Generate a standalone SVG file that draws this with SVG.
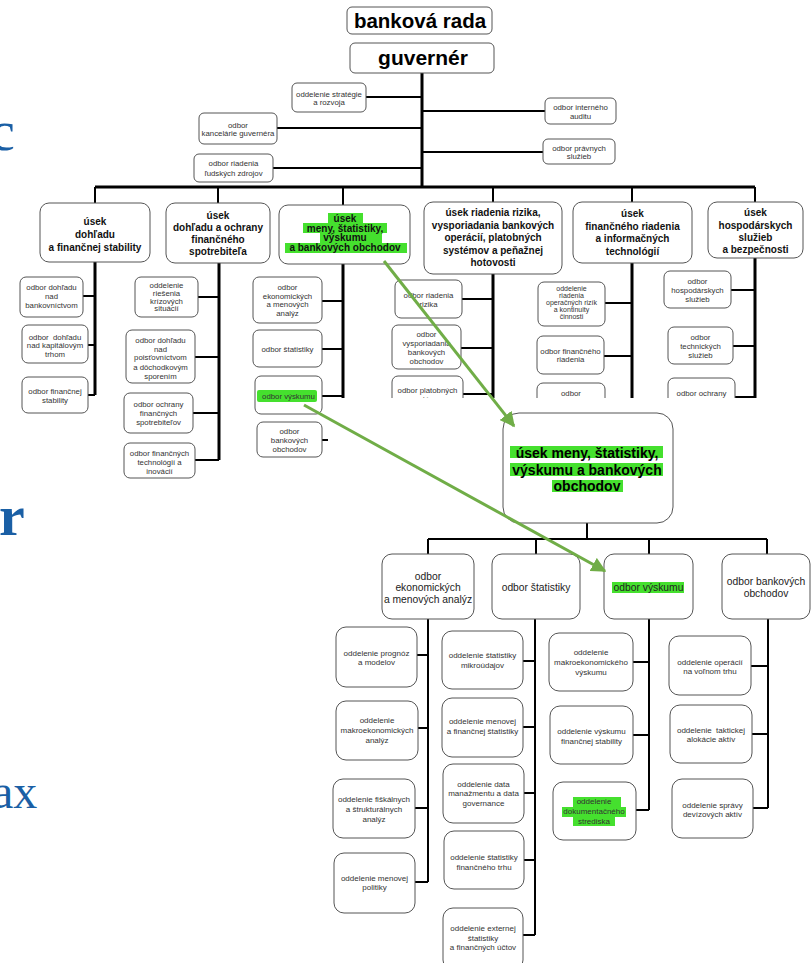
<svg xmlns="http://www.w3.org/2000/svg" width="811" height="963" viewBox="0 0 811 963">
<defs>
<style>
.bx{fill:#fff;stroke:#555;stroke-width:1}
.ln{stroke:#000;stroke-width:2;fill:none}
.tk{stroke:#000;stroke-width:3;fill:none}
.hl{fill:#45e02e}
.t{font-family:"Liberation Sans",Arial,sans-serif;text-anchor:middle}
.h{font-size:10px;font-weight:bold;fill:#111}
.s{font-size:7.8px;fill:#333}
.xs{font-size:7px;fill:#333}
.b{font-size:8px;fill:#333}
.m{font-size:10.3px;fill:#222}
.bl{font-family:"Liberation Serif","Times New Roman",serif;fill:#1a5fa5}
.ga{stroke:#70ad47;stroke-width:3;fill:none}
</style>
<marker id="ah" viewBox="0 0 10 10" refX="9" refY="5" markerWidth="5" markerHeight="5" orient="auto" markerUnits="strokeWidth">
<path d="M0,0 L10,5 L0,10 z" fill="#70ad47"/>
</marker>
</defs>
<rect width="811" height="963" fill="#fff"/>
<g id="bg-letters">
<text class="bl" x="-10" y="150" font-size="56">c</text>
<text class="bl" x="-1" y="535" font-size="58" font-weight="bold">r</text>
<text class="bl" x="-8" y="808" font-size="48">ax</text>
</g>
<g id="top-connectors">
<path class="tk" d="M422,73 V187 M95,187 H755"/>
<path class="ln" d="M366,97 H422 M277,128 H422 M273,168 H422 M422,111 H545 M422,152 H543"/>
<path class="ln" d="M95,187 V203 M218,187 V203 M343,187 V205 M493,187 V202 M632,187 V202 M755,187 V202"/>
<path class="tk" d="M95,262 V395 M219,263 V460 M343,264 V398 M493,274 V398 M632,263 V398 M755,258 V398"/>
<path class="ln" d="M83,296 H95 M88,345 H95 M88,395 H95"/>
<path class="ln" d="M198,297 H219 M195,357 H219 M193,413 H219 M195,460 H219"/>
<path class="ln" d="M322,301 H343 M322,349 H343 M322,396 H343 M322,440 H330"/>
<path class="ln" d="M462,299 H493 M461,348 H493 M463,394 H493"/>
<path class="ln" d="M605,303 H632 M604,356 H632"/>
<path class="ln" d="M731,290 H755 M733,346 H755 M735,397 H755"/>
</g>
<g id="banska-rada"><rect class="bx" x="347" y="7" width="145" height="27" rx="5"/><text class="t" x="420" y="28" font-size="20.5" font-weight="bold">banková rada</text></g>
<g id="guverner"><rect class="bx" x="350" y="43" width="144" height="30" rx="5"/><text class="t" x="423" y="65" font-size="21" font-weight="bold">guvernér</text></g>
<g id="strategia"><rect class="bx" x="292" y="83" width="74" height="29" rx="5"/><text class="t s" x="329" y="97">oddelenie stratégie</text><text class="t s" x="329" y="105">a rozvoja</text></g>
<g id="kancelaria"><rect class="bx" x="199" y="113" width="78" height="31" rx="5"/><text class="t s" x="238" y="128">odbor</text><text class="t s" x="238" y="136">kancelárie guvernéra</text></g>
<g id="ludske-zdroje"><rect class="bx" x="194" y="154" width="79" height="28" rx="5"/><text class="t s" x="233.5" y="166">odbor riadenia</text><text class="t s" x="233.5" y="176">ľudských zdrojov</text></g>
<g id="audit"><rect class="bx" x="545" y="98" width="71" height="26" rx="5"/><text class="t s" x="580.5" y="110">odbor interného</text><text class="t s" x="580.5" y="119">auditu</text></g>
<g id="pravne"><rect class="bx" x="543" y="139" width="72" height="25" rx="5"/><text class="t s" x="579" y="150.5">odbor právnych</text><text class="t s" x="579" y="159">služieb</text></g>

<g id="usek1"><rect class="bx" x="40" y="203" width="110" height="59" rx="9"/>
<text class="t h" x="95" y="225">úsek</text><text class="t h" x="95" y="238">dohľadu</text><text class="t h" x="95" y="250.5">a finančnej stability</text></g>
<g id="usek2"><rect class="bx" x="166" y="203" width="104" height="60" rx="9"/>
<text class="t h" x="218" y="218.5">úsek</text><text class="t h" x="218" y="231">dohľadu a ochrany</text><text class="t h" x="218" y="243">finančného</text><text class="t h" x="218" y="255">spotrebiteľa</text></g>
<g id="usek3"><rect class="bx" x="279" y="205" width="131" height="59" rx="9"/>
<rect class="hl" x="328" y="213" width="35" height="10"/><rect class="hl" x="303" y="223" width="84" height="10"/><rect class="hl" x="320" y="233" width="62" height="10"/><rect class="hl" x="285" y="243" width="122" height="10"/>
<text class="t h" x="345" y="222">úsek</text><text class="t h" x="345" y="231.5">meny, štatistiky,</text><text class="t h" x="345" y="241">výskumu</text><text class="t h" x="345" y="251">a bankových obchodov</text></g>
<g id="usek4"><rect class="bx" x="424" y="202" width="138" height="72" rx="9"/>
<text class="t h" x="493" y="216">úsek riadenia rizika,</text><text class="t h" x="493" y="228.5">vysporiadania bankových</text><text class="t h" x="493" y="241">operácií, platobných</text><text class="t h" x="493" y="253.5">systémov a peňažnej</text><text class="t h" x="493" y="266">hotovosti</text></g>
<g id="usek5"><rect class="bx" x="573" y="202" width="119" height="61" rx="9"/>
<text class="t h" x="632.5" y="217">úsek</text><text class="t h" x="632.5" y="229.5">finančného riadenia</text><text class="t h" x="632.5" y="242">a informačných</text><text class="t h" x="632.5" y="254.5">technológií</text></g>
<g id="usek6"><rect class="bx" x="708" y="202" width="95" height="56" rx="9"/>
<text class="t h" x="755.5" y="216">úsek</text><text class="t h" x="755.5" y="228.5">hospodárskych</text><text class="t h" x="755.5" y="241">služieb</text><text class="t h" x="755.5" y="253">a bezpečnosti</text></g>

<g id="u1a"><rect class="bx" x="20" y="277" width="63" height="40" rx="6"/><text class="t s" x="51.5" y="290">odbor dohľadu</text><text class="t s" x="51.5" y="299">nad</text><text class="t s" x="51.5" y="308">bankovníctvom</text></g>
<g id="u1b"><rect class="bx" x="22" y="325" width="66" height="38" rx="6"/><text class="t s" x="55" y="339.5" xml:space="preserve">odbor  dohľadu</text><text class="t s" x="55" y="348">nad kapitálovým</text><text class="t s" x="55" y="356.5">trhom</text></g>
<g id="u1c"><rect class="bx" x="22" y="377" width="66" height="36" rx="6"/><text class="t s" x="55" y="393.5">odbor finančnej</text><text class="t s" x="55" y="403">stability</text></g>
<g id="u2a"><rect class="bx" x="135" y="277" width="63" height="40" rx="6"/><text class="t s" x="166.5" y="288">oddelenie</text><text class="t s" x="166.5" y="295.5">riešenia</text><text class="t s" x="166.5" y="303.5">krízových</text><text class="t s" x="166.5" y="311">situácií</text></g>
<g id="u2b"><rect class="bx" x="126" y="330" width="69" height="53" rx="6"/><text class="t s" x="160.5" y="343">odbor dohľadu</text><text class="t s" x="160.5" y="351.5">nad</text><text class="t s" x="160.5" y="360">poisťovníctvom</text><text class="t s" x="160.5" y="369.5">a dôchodkovým</text><text class="t s" x="160.5" y="379">sporením</text></g>
<g id="u2c"><rect class="bx" x="124" y="393" width="69" height="40" rx="6"/><text class="t s" x="158.5" y="407">odbor ochrany</text><text class="t s" x="158.5" y="416">finančných</text><text class="t s" x="158.5" y="424.5">spotrebiteľov</text></g>
<g id="u2d"><rect class="bx" x="124" y="443" width="71" height="35" rx="6"/><text class="t s" x="159.5" y="455.5">odbor finančných</text><text class="t s" x="159.5" y="464.5">technológií a</text><text class="t s" x="159.5" y="473.5">inovácií</text></g>
<g id="u3a"><rect class="bx" x="253" y="277" width="69" height="46" rx="6"/><text class="t s" x="287.5" y="289.5">odbor</text><text class="t s" x="287.5" y="298.5">ekonomických</text><text class="t s" x="287.5" y="307">a menových</text><text class="t s" x="287.5" y="316">analýz</text></g>
<g id="u3b"><rect class="bx" x="253" y="330" width="69" height="37" rx="6"/><text class="t s" x="287.5" y="352">odbor štatistiky</text></g>
<g id="u3c"><rect class="bx" x="255" y="376" width="67" height="38" rx="6"/><rect class="hl" x="257" y="390" width="60" height="12" rx="2"/><text class="t s" x="288.5" y="398.5">odbor výskumu</text></g>
<g id="u3d"><rect class="bx" x="257" y="422" width="65" height="35" rx="6"/><text class="t s" x="289.5" y="434">odbor</text><text class="t s" x="289.5" y="443">bankových</text><text class="t s" x="289.5" y="452">obchodov</text></g>
<g id="u4a"><rect class="bx" x="395" y="280" width="67" height="38" rx="6"/><text class="t s" x="428.5" y="298">odbor riadenia</text><text class="t s" x="428.5" y="307">rizika</text></g>
<g id="u4b"><rect class="bx" x="392" y="325" width="69" height="44" rx="6"/><text class="t s" x="426.5" y="337">odbor</text><text class="t s" x="426.5" y="345.5">vysporiadania</text><text class="t s" x="426.5" y="354.5">bankových</text><text class="t s" x="426.5" y="363.5">obchodov</text></g>
<g id="u4c"><rect class="bx" x="392" y="376" width="71" height="40" rx="6"/><text class="t s" x="427.5" y="393">odbor platobných</text><text class="t s" x="427.5" y="401.5">systémov</text></g>
<g id="u5a"><rect class="bx" x="538" y="282" width="67" height="44" rx="6"/><text class="t xs" x="571.5" y="291">oddelenie</text><text class="t xs" x="571.5" y="298">riadenia</text><text class="t xs" x="571.5" y="305">operačných rizík</text><text class="t xs" x="571.5" y="312">a kontinuity</text><text class="t xs" x="571.5" y="319">činnosti</text></g>
<g id="u5b"><rect class="bx" x="537" y="336" width="67" height="38" rx="6"/><text class="t s" x="570.5" y="354">odbor finančného</text><text class="t s" x="570.5" y="362">riadenia</text></g>
<g id="u5c"><rect class="bx" x="537" y="383" width="68" height="40" rx="6"/><text class="t s" x="571" y="396">odbor</text><text class="t s" x="571" y="405">informačných</text></g>
<g id="u6a"><rect class="bx" x="664" y="271" width="67" height="37" rx="6"/><text class="t s" x="697.5" y="284">odbor</text><text class="t s" x="697.5" y="293">hospodárskych</text><text class="t s" x="697.5" y="302">služieb</text></g>
<g id="u6b"><rect class="bx" x="668" y="327" width="65" height="37" rx="6"/><text class="t s" x="700.5" y="340">odbor</text><text class="t s" x="700.5" y="349">technických</text><text class="t s" x="700.5" y="358">služieb</text></g>
<g id="u6c"><rect class="bx" x="668" y="378" width="67" height="40" rx="6"/><text class="t s" x="701.5" y="396">odbor ochrany</text><text class="t s" x="701.5" y="405">informácií</text></g>

<rect x="328" y="398" width="483" height="565" fill="#fff"/>
<g id="bottom-connectors">
<path class="ln" d="M587,523 V539 M428,539 H767 M428,539 V554 M536,539 V554 M649,539 V554 M767,539 V554"/>
<path class="ln" d="M428,619 V882 M535,619 V935 M649,619 V810 M768,619 V808"/>
<path class="ln" d="M417,655 H428 M418,728 H428 M415,808 H428 M415,882 H428"/>
<path class="ln" d="M523,661 H535 M523,727 H535 M524,793 H535 M524,860 H535 M523,935 H535"/>
<path class="ln" d="M633,662 H649 M633,735 H649 M636,810 H649"/>
<path class="ln" d="M751,666 H768 M752,734 H768 M753,808 H768"/>
</g>
<g id="usek-meny"><rect class="bx" x="503" y="413" width="170" height="110" rx="16"/>
<rect class="hl" x="510" y="446" width="153" height="12"/><rect class="hl" x="510" y="463" width="153" height="13"/><rect class="hl" x="552" y="480" width="71" height="12"/>
<text class="t" x="587" y="457.5" font-size="14" font-weight="bold">úsek meny, štatistiky,</text><text class="t" x="587" y="474.5" font-size="14" font-weight="bold">výskumu a bankových</text><text class="t" x="587" y="491" font-size="14" font-weight="bold">obchodov</text></g>
<g id="b-ekon"><rect class="bx" x="382" y="554" width="92" height="65" rx="10"/><text class="t m" x="428" y="579.5">odbor</text><text class="t m" x="428" y="591">ekonomických</text><text class="t m" x="428" y="602.5">a menových analýz</text></g>
<g id="b-stat"><rect class="bx" x="492" y="554" width="88" height="65" rx="10"/><text class="t m" x="536" y="590.5">odbor štatistiky</text></g>
<g id="b-vysk"><rect class="bx" x="604" y="554" width="89" height="65" rx="10"/><rect class="hl" x="612" y="582" width="72" height="11"/><text class="t m" x="648.5" y="590.5">odbor výskumu</text></g>
<g id="b-bank"><rect class="bx" x="722" y="554" width="88" height="65" rx="10"/><text class="t m" x="766" y="584.5">odbor bankových</text><text class="t m" x="766" y="596.5">obchodov</text></g>

<g id="bu1"><rect class="bx" x="336" y="627" width="81" height="60" rx="10"/><text class="t b" x="376.5" y="656">oddelenie prognóz</text><text class="t b" x="376.5" y="665">a modelov</text></g>
<g id="bu2"><rect class="bx" x="336" y="701" width="82" height="59" rx="10"/><text class="t b" x="377" y="723">oddelenie</text><text class="t b" x="377" y="733">makroekonomických</text><text class="t b" x="377" y="742.5">analýz</text></g>
<g id="bu3"><rect class="bx" x="333" y="779" width="82" height="59" rx="10"/><text class="t b" x="374" y="802">oddelenie fiškálnych</text><text class="t b" x="374" y="812">a štrukturálnych</text><text class="t b" x="374" y="822">analýz</text></g>
<g id="bu4"><rect class="bx" x="334" y="853" width="81" height="60" rx="10"/><text class="t b" x="374.5" y="881">oddelenie menovej</text><text class="t b" x="374.5" y="890">politiky</text></g>
<g id="bv1"><rect class="bx" x="442" y="631" width="81" height="58" rx="10"/><text class="t b" x="482.5" y="658">oddelenie štatistiky</text><text class="t b" x="482.5" y="668">mikroúdajov</text></g>
<g id="bv2"><rect class="bx" x="442" y="698" width="81" height="59" rx="10"/><text class="t b" x="482.5" y="724">oddelenie menovej</text><text class="t b" x="482.5" y="734">a finančnej štatistiky</text></g>
<g id="bv3"><rect class="bx" x="443" y="764" width="81" height="59" rx="10"/><text class="t b" x="483.5" y="787">oddelenie data</text><text class="t b" x="483.5" y="796">manažmentu a data</text><text class="t b" x="483.5" y="805.5">governance</text></g>
<g id="bv4"><rect class="bx" x="444" y="831" width="80" height="58" rx="10"/><text class="t b" x="484" y="859.5">oddelenie štatistiky</text><text class="t b" x="484" y="869.5">finančného trhu</text></g>
<g id="bv5"><rect class="bx" x="443" y="908" width="80" height="62" rx="10"/><text class="t b" x="483" y="931">oddelenie externej</text><text class="t b" x="483" y="940.5">štatistiky</text><text class="t b" x="483" y="949.5">a finančných účtov</text></g>
<g id="bw1"><rect class="bx" x="549" y="633" width="84" height="58" rx="10"/><text class="t b" x="591" y="655">oddelenie</text><text class="t b" x="591" y="665">makroekonomického</text><text class="t b" x="591" y="674.5">výskumu</text></g>
<g id="bw2"><rect class="bx" x="550" y="706" width="83" height="58" rx="10"/><text class="t b" x="591.5" y="734">oddelenie výskumu</text><text class="t b" x="591.5" y="743.5">finančnej stability</text></g>
<g id="bw3"><rect class="bx" x="553" y="782" width="83" height="58" rx="10"/>
<rect class="hl" x="573" y="797" width="48" height="10"/><rect class="hl" x="562" y="807" width="64" height="10"/><rect class="hl" x="573" y="816" width="42" height="10"/>
<text class="t b" x="594" y="804">oddelenie</text><text class="t b" x="594" y="814">dokumentačného</text><text class="t b" x="594" y="823.5">strediska</text></g>
<g id="bx1"><rect class="bx" x="669" y="636" width="82" height="59" rx="10"/><text class="t b" x="710" y="664.5">oddelenie operácií</text><text class="t b" x="710" y="674">na voľnom trhu</text></g>
<g id="bx2"><rect class="bx" x="670" y="705" width="82" height="58" rx="10"/><text class="t b" x="711" y="733" xml:space="preserve">oddelenie  taktickej</text><text class="t b" x="711" y="742">alokácie aktív</text></g>
<g id="bx3"><rect class="bx" x="672" y="779" width="81" height="59" rx="10"/><text class="t b" x="712.5" y="808">oddelenie správy</text><text class="t b" x="712.5" y="817">devízových aktív</text></g>

<g id="green-arrows">
<line class="ga" x1="384" y1="261" x2="514" y2="426" marker-end="url(#ah)"/>
<line class="ga" x1="304" y1="405" x2="605" y2="571" marker-end="url(#ah)"/>
</g>
</svg>
